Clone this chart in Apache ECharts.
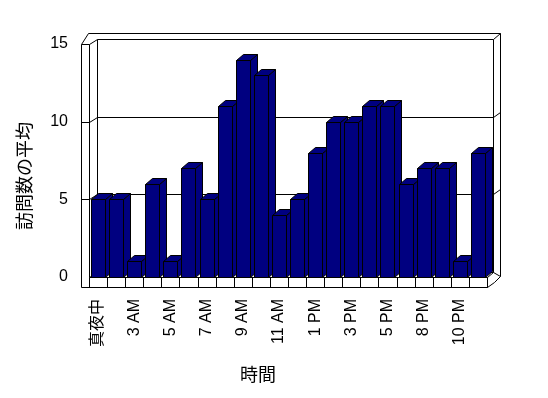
<!DOCTYPE html>
<html>
<head>
<meta charset="utf-8">
<script src="https://cdn.jsdelivr.net/npm/echarts@6/dist/echarts.min.js"></script>
<style>
html,body{margin:0;padding:0;background:#fff;}
#chart{width:548px;height:398px;}
</style>
</head>
<body>
<div id="chart"></div>
<script>
// 時間帯ごとの訪問数の平均
const hours = ['真夜中','1 AM','3 AM','4 AM','5 AM','6 AM','7 AM','8 AM','9 AM','10 AM','11 AM','正午',
  '1 PM','2 PM','3 PM','4 PM','5 PM','6 PM','8 PM','9 PM','10 PM','11 PM'];
const visits = [5,5,1,6,1,7,5,11,14,13,4,5,8,10,10,11,11,6,7,7,1,8];
const yTicks = [0,5,10,15];

const FONT = '"Liberation Sans", Arial, "Noto Sans CJK JP", sans-serif';
const NAVY = '#000080';

let chartDom = document.getElementById('chart');
let myChart = echarts.init(chartDom);

const lineEl = (x1, y1, x2, y2) => ({
  type: 'line',
  shape: {x1: x1 + .5, y1: y1 + .5, x2: x2 + .5, y2: y2 + .5},
  style: {stroke: '#000', lineWidth: 1}
});
const polyEl = (pts, fill) => ({
  type: 'polygon',
  shape: {points: pts.map(p => [p[0] + .5, p[1] + .5])},
  style: {fill: fill, stroke: '#000', lineWidth: 1}
});

// 3D walls and floor, built from the grid rect
function renderFrame(params, api) {
  const cs = params.coordSys;
  const L = Math.round(cs.x), T = Math.round(cs.y);
  const R = Math.round(cs.x + cs.width), B = Math.round(cs.y + cs.height);
  const dx = 8, dy = -5;
  const kids = [];
  // outline
  kids.push(polyEl([[L-8,T],[L-1,T-11],[R+13,T-11],[R+13,B-1],[R+7,B+5],[R,B+10],[L-8,B+10]], '#fff'));
  // back wall face
  kids.push(polyEl([[L+dx,T+dy],[R+dx-2,T+dy],[R+dx-2,B+dy],[L+dx,B+dy]], '#fff'));
  // left wall
  kids.push(lineEl(L,T,L,B));
  kids.push(lineEl(L-8,T,L,T));
  kids.push(lineEl(L,T,L+dx,T+dy));
  kids.push(lineEl(L,B,L+dx,B+dy));
  // right slab
  kids.push(lineEl(R+dx-2,T+dy,R+13,T-11));
  kids.push(lineEl(R+dx-2,B+dy,R+13,B-1));
  // floor front
  kids.push(lineEl(L,B,R,B));
  kids.push(lineEl(R,B,R+dx-2,B+dy));
  kids.push(lineEl(R,B,R,B+10));
  const bw = api.size([1, 0])[0];
  for (let i = 0; i <= hours.length; i++) {
    const x = Math.round(L + i * bw);
    kids.push(lineEl(x, B, x, B + 10));
  }
  // gridlines
  yTicks.slice(1, -1).forEach(t => {
    const y = Math.round(api.coord([0, t])[1]);
    kids.push(lineEl(L-8, y, L, y));
    kids.push(lineEl(L, y, L+dx, y+dy));
    kids.push(lineEl(L+dx, y+dy, R+dx-2, y+dy));
    kids.push(lineEl(R+dx-2, y+dy, R+13, y+dy-5));
  });
  return {type: 'group', children: kids};
}

function renderBar(params, api) {
  const i = api.value(0), v = api.value(1);
  const base = api.coord([i, 0]), top = api.coord([i, v]);
  const bw = api.size([1, 0])[0];
  const x0 = Math.round(base[0] - bw / 2 + bw * 0.11);
  const x1 = Math.round(x0 + bw * 0.8);
  const y0 = Math.round(base[1]), y1 = Math.round(top[1]);
  const dx = 7, dy = -6;
  return {
    type: 'group',
    children: [
      polyEl([[x1,y1],[x1+dx,y1+dy],[x1+dx,y0+dy],[x1,y0]], NAVY),
      polyEl([[x0,y1],[x0+dx,y1+dy],[x1+dx,y1+dy],[x1,y1]], NAVY),
      polyEl([[x0,y1],[x1,y1],[x1,y0],[x0,y0]], NAVY)
    ]
  };
}

let option = {
  animation: false,
  backgroundColor: '#fff',
  grid: {left: 89, right: 61, top: 44, bottom: 121},
  xAxis: {
    type: 'category',
    data: hours,
    boundaryGap: true,
    axisLine: {show: false},
    axisTick: {show: false},
    axisLabel: {
      interval: 1,
      rotate: 90,
      margin: 22,
      fontSize: 16,
      color: '#000',
      fontFamily: FONT
    }
  },
  yAxis: {
    type: 'value',
    min: yTicks[0],
    max: yTicks[yTicks.length - 1],
    interval: yTicks[1] - yTicks[0],
    axisLine: {show: false},
    axisTick: {show: false},
    splitLine: {show: false},
    axisLabel: {margin: 21, fontSize: 16, color: '#000', fontFamily: FONT}
  },
  graphic: [
    {type: 'text', left: 15, top: 122, rotation: Math.PI / 2, z: 10,
      style: {text: '訪問数の平均', fontSize: 18, fill: '#000', fontFamily: '"Noto Sans CJK JP", sans-serif'}},
    {type: 'text', left: 240, top: 365, z: 10,
      style: {text: '時間', fontSize: 18, fill: '#000', fontFamily: '"Noto Sans CJK JP", sans-serif'}}
  ],
  series: [
    {
      type: 'custom',
      renderItem: renderFrame,
      data: [[0, 0]],
      z: 1,
      silent: true
    },
    {
      type: 'custom',
      renderItem: renderBar,
      encode: {x: 0, y: 1},
      data: visits.map((v, i) => [i, v]),
      z: 2
    }
  ]
};
myChart.setOption(option, true);
</script>
</body>
</html>
